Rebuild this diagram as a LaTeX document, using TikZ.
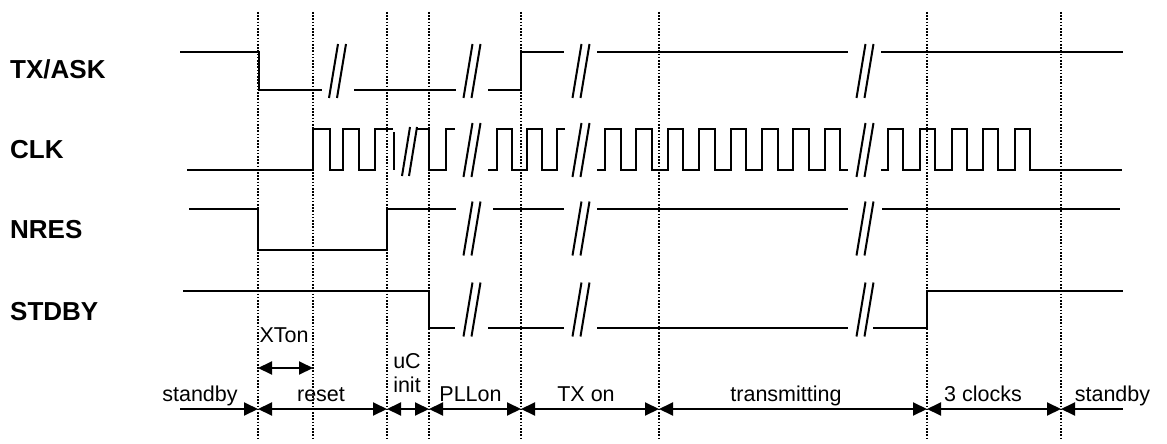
\documentclass[tikz,border=0pt]{standalone}
\usepackage{fontspec}
\setmainfont{Liberation Sans}
\usetikzlibrary{arrows.meta}
\begin{document}
\begin{tikzpicture}[x=1pt,y=-1pt,
  sig/.style={line width=2pt, line join=miter},
  brk/.style={line width=2pt},
  dotline/.style={line width=1.6pt, dash pattern=on 1.6pt off 1.6pt},
  tl/.style={line width=2pt, >={Triangle[length=14pt,width=13pt]}},
  lab/.style={font=\fontsize{26}{30}\selectfont\bfseries, anchor=base west, inner sep=0pt},
  ph/.style={font=\fontsize{21.5}{24}\selectfont, anchor=base, inner sep=0pt},
  brkpic/.pic={\draw[brk] (-8.5,27) -- (0.5,-27) (-0.5,27) -- (8.5,-27);}]
\useasboundingbox (0,0) rectangle (1167,444);

% dotted phase boundaries
\foreach \x in {258,313,387,429,521,659,927,1061}
  \draw[dotline] (\x,12) -- (\x,440);

% signal names
\node[lab] (nTX)   at (10,78)  {TX/ASK};
\node[lab] (nCLK)  at (10,158) {CLK};
\node[lab] (nNRES) at (10,238) {NRES};
\node[lab] (nSTB)  at (10,320) {STDBY};

% TX/ASK
\draw[sig] (180,52) -- (259,52) -- (259,90) -- (322,90);
\draw[sig] (354,90) -- (456,90);
\draw[sig] (488,90) -- (521,90) -- (521,52) -- (564,52);
\draw[sig] (597,52) -- (848,52);
\draw[sig] (881,52) -- (1123,52);
\foreach \x in {337.5,472,581,865} \pic at (\x,71) {brkpic};

% CLK
\draw[sig] (187,170) -- (313,170) -- (313,129) -- (330,129) -- (330,170) -- (343,170)
  -- (343,129) -- (359,129) -- (359,170) -- (375,170) -- (375,129) -- (393,129);
\draw[sig] (394,132) -- (394,170);
\draw[brk] (402,176) -- (410,127) (409,176) -- (417,127);
\draw[sig] (416,129) -- (429,129) -- (429,170) -- (446,170) -- (446,129) -- (455,129);
\draw[sig] (488,170) -- (497,170) -- (497,129) -- (512,129) -- (512,170) -- (527,170)
  -- (527,129) -- (542,129) -- (542,170) -- (557,170) -- (557,129) -- (565,129);
\draw[sig] (597,170) foreach \i in {0,...,7} { -- ({605+31.4*\i},170) -- ({605+31.4*\i},129)
  -- ({620.5+31.4*\i},129) -- ({620.5+31.4*\i},170) } -- (848,170);
\draw[sig] (881,170) foreach \i in {0,...,4} { -- ({888+31.75*\i},170) -- ({888+31.75*\i},129)
  -- ({903+31.75*\i},129) -- ({903+31.75*\i},170) } -- (1122,170);
\foreach \x in {472,581,865} \pic at (\x,150) {brkpic};

% NRES
\draw[sig] (189,209) -- (258,209) -- (258,250) -- (387,250) -- (387,209) -- (456,209);
\draw[sig] (493,209) -- (564,209);
\draw[sig] (597,209) -- (848,209);
\draw[sig] (882,209) -- (1120,209);
\foreach \x in {472,581,865} \pic at (\x,228.5) {brkpic};

% STDBY
\draw[sig] (183,291) -- (429,291) -- (429,328) -- (455,328);
\draw[sig] (488,328) -- (564,328);
\draw[sig] (597,328) -- (848,328);
\draw[sig] (873,328) -- (927,328) -- (927,291) -- (1123,291);
\foreach \x in {472,581,865} \pic at (\x,309.5) {brkpic};

% XTon
\coordinate (xa) at (258,368);
\coordinate (xb) at (313,368);
\draw[tl,<->] (xa) -- (xb);
\node[ph] (lXT) at (284,342.7) {XTon};

% phase timeline
\coordinate (p0) at (180,409);
\coordinate (p1) at (258,409);
\coordinate (p2) at (387,409);
\coordinate (p3) at (429,409);
\coordinate (p4) at (521,409);
\coordinate (p5) at (659,409);
\coordinate (p6) at (927,409);
\coordinate (p7) at (1061,409);
\coordinate (p8) at (1123,409);
\draw[tl,->] (p0) -- (p1);
\draw[tl,<->] (p1) -- (p2);
\draw[tl,<->] (p2) -- (p3);
\draw[tl,<->] (p3) -- (p4);
\draw[tl,<->] (p4) -- (p5);
\draw[tl,<->] (p5) -- (p6);
\draw[tl,<->] (p6) -- (p7);
\draw[tl,<-] (p7) -- (p8);

\node[ph] (l1) at (200,401.5) {standby};
\node[ph] (l2) at (321,401.5) {reset};
\node[ph] (l3a) at (407,368) {uC};
\node[ph] (l3b) at (407,392.7) {init};
\node[ph] (l4) at (470.5,401.5) {PLLon};
\node[ph] (l5) at (586,401.5) {TX on};
\node[ph] (l6) at (786,401.5) {transmitting};
\node[ph] (l7) at (983,401.5) {3 clocks};
\node[ph] (l8) at (1112.5,401.5) {standby};
\end{tikzpicture}
\end{document}
